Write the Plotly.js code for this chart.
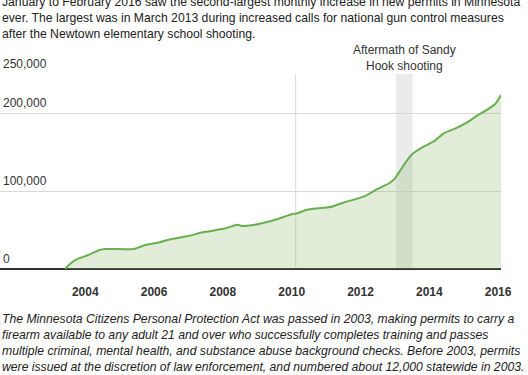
<!DOCTYPE html>
<html>
<head>
<meta charset="utf-8">
<script src="https://cdn.plot.ly/plotly-3.0.1.min.js"></script>
<style>
html,body{margin:0;padding:0;background:#fff;}
#chart{width:528px;height:375px;}
</style>
</head>
<body>
<div id="chart"></div>
<script>
// Data
const months = ["2003-06-01","2003-08-01","2003-10-01","2004-02-01","2004-06-01","2004-08-01","2005-06-01","2005-10-01","2006-03-01","2006-06-01","2007-01-01","2007-06-01","2007-09-01","2008-02-01","2008-06-01","2008-08-01","2008-11-01","2009-03-01","2009-07-01","2010-01-01","2010-03-01","2010-06-01","2011-03-01","2011-07-01","2012-02-01","2012-07-01","2012-11-01","2013-01-01","2013-03-01","2013-05-01","2013-07-01","2013-11-01","2014-03-01","2014-06-01","2014-10-01","2015-02-01","2015-06-01","2015-09-01","2015-12-01","2016-02-01"];
const permits = [0,7300,12400,17900,24400,25600,25600,30800,34200,37600,42300,47000,48700,52200,56800,55100,56000,59000,62800,70100,71400,75600,79900,85000,92700,102600,109900,116300,126900,137600,147000,156800,164500,174000,179900,187600,197400,203800,211500,223100];

const yTickVals = [0, 100000, 200000, 250000];
const yTickText = ["0", "100,000", "200,000", "250,000"];
const xTickVals = ["2004-01-01","2006-01-01","2008-01-01","2010-01-01","2012-01-01","2014-01-01","2016-01-01"];
const xTickText = ["2004","2006","2008","2010","2012","2014","2016"];

const sandyHookStart = "2013-01-12";
const sandyHookEnd = "2013-07-07";
const sandyHookLabel = "Aftermath of Sandy<br>Hook shooting";
const markerYear = "2010-02-12";

const introText = "January to February 2016 saw the second-largest monthly increase in new permits in Minnesota<br>ever. The largest was in March 2013 during increased calls for national gun control measures<br>after the Newtown elementary school shooting.";
const noteText = "The Minnesota Citizens Personal Protection Act was passed in 2003, making permits to carry a<br>firearm available to any adult 21 and over who successfully completes training and passes<br>multiple criminal, mental health, and substance abuse background checks. Before 2003, permits<br>were issued at the discretion of law enforcement, and numbered about 12,000 statewide in 2003.";

const FONT = "Arial, 'Liberation Sans', sans-serif";

const trace = {
  x: months,
  y: permits,
  type: "scatter",
  mode: "lines",
  fill: "tozeroy",
  fillcolor: "rgba(135,183,103,0.25)",
  line: {color: "#6aaf4f", width: 2, shape: "spline", smoothing: 0.5},
  hoverinfo: "x+y"
};

const annotations = [];
yTickVals.forEach((v, i) => {
  annotations.push({
    xref: "paper", yref: "y", x: 0, y: v,
    xanchor: "left", yanchor: "middle", yshift: 10, xshift: 1,
    text: yTickText[i], showarrow: false,
    font: {family: FONT, size: 12, color: "#333"}
  });
});
annotations.push({
  xref: "x", yref: "paper",
  x: "2013-04-10", y: 1.0846,
  xanchor: "center", yanchor: "middle",
  text: sandyHookLabel, showarrow: false,
  font: {family: FONT, size: 12, color: "#333"}
});
annotations.push({
  xref: "paper", yref: "paper", x: 0, y: 1.2897,
  xanchor: "left", yanchor: "middle", align: "left",
  text: introText, showarrow: false,
  font: {family: FONT, size: 12.2, color: "#222"}
});
annotations.push({
  xref: "paper", yref: "paper", x: 0, y: -0.3795,
  xanchor: "left", yanchor: "middle", align: "left",
  text: "<i>" + noteText + "</i>", showarrow: false,
  font: {family: FONT, size: 12.2, color: "#222"}
});

const layout = {
  width: 528, height: 375,
  margin: {l: 0, r: 27, t: 74, b: 106, pad: 0},
  paper_bgcolor: "#fff", plot_bgcolor: "#fff",
  showlegend: false,
  xaxis: {
    type: "date",
    range: ["2001-07-10", "2016-02-01"],
    tickvals: xTickVals, ticktext: xTickText,
    showgrid: false, zeroline: false, showline: false,
    ticks: "", ticklen: 0, ticklabelstandoff: 14,
    tickfont: {family: FONT, size: 12, color: "#333", weight: "bold"},
    fixedrange: true
  },
  yaxis: {
    range: [0, 250000],
    tickvals: yTickVals, showticklabels: false,
    showgrid: true, gridcolor: "#d9d9d9", gridwidth: 1,
    zeroline: true, zerolinecolor: "#333", zerolinewidth: 1.5,
    showline: false, ticks: "",
    fixedrange: true
  },
  shapes: [
    {type: "rect", xref: "x", yref: "y", x0: sandyHookStart, x1: sandyHookEnd, y0: 0, y1: 250000,
     fillcolor: "#ebebeb", line: {width: 0}, layer: "below"},
    {type: "line", xref: "x", yref: "y", x0: markerYear, x1: markerYear, y0: 0, y1: 250000,
     line: {color: "#d9d9d9", width: 1}, layer: "below"}
  ],
  annotations: annotations
};

Plotly.newPlot("chart", [trace], layout, {displayModeBar: false, staticPlot: true});
</script>
</body>
</html>
